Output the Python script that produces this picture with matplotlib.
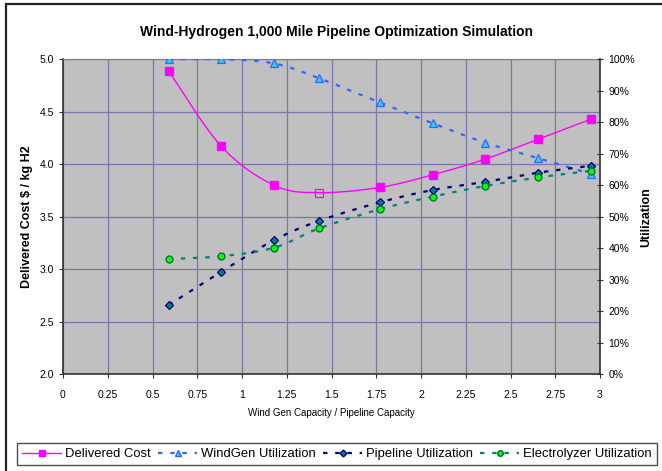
import numpy as np
import matplotlib
matplotlib.use('Agg')
import matplotlib.pyplot as plt
from matplotlib.lines import Line2D
from matplotlib.patches import Rectangle
from matplotlib.ticker import PercentFormatter

plt.rcParams['font.family'] = ['Liberation Sans', 'DejaVu Sans']

# data
ratio = [0.59, 0.885, 1.18, 1.43, 1.77, 2.065, 2.36, 2.655, 2.95]
cost = [4.89, 4.17, 3.80, 3.73, 3.78, 3.90, 4.05, 4.24, 4.43]
windgen_util = [100.0, 100.0, 98.7, 94.0, 86.3, 79.7, 73.5, 68.6, 63.6]
pipeline_util = [22.0, 32.6, 42.6, 48.7, 54.6, 58.5, 61.1, 64.0, 66.2]
electro_util = [36.6, 37.5, 40.2, 46.3, 52.4, 56.4, 59.8, 62.5, 64.6]
xticks = [0, 0.25, 0.5, 0.75, 1, 1.25, 1.5, 1.75, 2, 2.25, 2.5, 2.75, 3]
xtick_labels = ['0', '0.25', '0.5', '0.75', '1', '1.25', '1.5', '1.75', '2', '2.25', '2.5', '2.75', '3']
min_idx = 3  # hollow marker on cost curve


def smooth(x, y, n=25):
    # excel-like smoothed line (bezier through the points)
    x = np.asarray(x, float)
    y = np.asarray(y, float)
    xs, ys = [], []
    m = len(x)
    for i in range(m - 1):
        i0 = max(i - 1, 0)
        i3 = min(i + 2, m - 1)
        p0 = np.array([x[i0], y[i0]])
        p1 = np.array([x[i], y[i]])
        p2 = np.array([x[i + 1], y[i + 1]])
        p3 = np.array([x[i3], y[i3]])
        c1 = p1 + (p2 - p0) / 6.0
        c2 = p2 - (p3 - p1) / 6.0
        t = np.linspace(0, 1, n)[:, None]
        pts = ((1 - t) ** 3) * p1 + 3 * ((1 - t) ** 2) * t * c1 + 3 * (1 - t) * t ** 2 * c2 + t ** 3 * p2
        xs.extend(pts[:, 0])
        ys.extend(pts[:, 1])
    return np.array(xs), np.array(ys)


fig = plt.figure(figsize=(6.62, 4.71), dpi=100)
fig.patches.append(Rectangle((6 / 662, -0.1), 1.2, (471 - 3.5) / 471 + 0.1, transform=fig.transFigure,
                             fill=False, edgecolor='#222222', linewidth=1.6))

ax = fig.add_axes([63 / 662, 1 - 374.3 / 471, (600 - 63) / 662, (374.3 - 59.3) / 471])
ax.set_facecolor('#C0C0C0')
ax.set_xlim(0, 3)
ax.set_ylim(2.0, 5.0)
ax.set_xticks(xticks)
ax.set_xticklabels(xtick_labels)
ax.set_yticks(np.arange(2.0, 5.01, 0.5))
ax.yaxis.set_major_formatter(matplotlib.ticker.FormatStrFormatter('%.1f'))
ax.grid(True, color='#7878A8', linewidth=0.9)
ax.set_axisbelow(True)
ax.tick_params(axis='both', labelsize=7.5, length=3, width=0.8, color='#333333')
ax.tick_params(axis='x', pad=8)
for s in ['left', 'bottom']:
    ax.spines[s].set_color('#333333')
    ax.spines[s].set_linewidth(1.2)
ax.spines['top'].set_color('#7878A8')
ax.spines['right'].set_visible(False)
ax.set_xlabel('Wind Gen Capacity / Pipeline Capacity', fontsize=7, labelpad=6)
ax.set_ylabel('Delivered Cost $ / kg H2', fontsize=9, fontweight='bold', labelpad=5)

ax2 = ax.twinx()
ax2.set_ylim(0, 100)
ax2.set_yticks(np.arange(0, 101, 10))
ax2.yaxis.set_major_formatter(PercentFormatter(decimals=0))
ax2.tick_params(axis='y', labelsize=7.5, length=5, width=0.8, direction='inout', color='#333333')
ax2.spines['right'].set_color('#333333')
ax2.spines['right'].set_linewidth(1.2)
for s in ['left', 'top', 'bottom']:
    ax2.spines[s].set_visible(False)
ax2.set_ylabel('Utilization', fontsize=9, fontweight='bold', labelpad=4)

# cost curve
sx, sy = smooth(ratio, cost)
ax.plot(sx, sy, color='#FF00FF', linewidth=1.0, zorder=5)
filled = [i for i in range(len(ratio)) if i != min_idx]
ax.plot([ratio[i] for i in filled], [cost[i] for i in filled], 's', color='#FF00FF',
        markersize=5.5, zorder=6)
ax.plot([ratio[min_idx]], [cost[min_idx]], 's', markerfacecolor='none', markeredgecolor='#FF00FF',
        markersize=6, markeredgewidth=0.9, zorder=6)

series = [
    (windgen_util, '#3366FF', '^', '#33CCEE', '#3366FF', 6, 'WindGen Utilization'),
    (pipeline_util, '#000080', 'D', '#008080', '#000080', 4.5, 'Pipeline Utilization'),
    (electro_util, '#008080', 'o', '#00FF00', '#006633', 5, 'Electrolyzer Utilization'),
]
for vals, lc, mk, fc, ec, ms, lab in series:
    ux, uy = smooth(ratio, vals)
    ax2.plot(ux, uy, color=lc, linewidth=1.6, dashes=(2, 3.5), zorder=3)
    ax2.plot(ratio, vals, mk, markerfacecolor=fc, markeredgecolor=ec, markersize=ms,
             markeredgewidth=0.9, zorder=4)

handles = [Line2D([], [], color='#FF00FF', linewidth=1.0, marker='s', markersize=5,
                  label='Delivered Cost')]
for vals, lc, mk, fc, ec, ms, lab in series:
    handles.append(Line2D([], [], color=lc, linewidth=1.6, dashes=(2, 3.5), marker=mk,
                          markerfacecolor=fc, markeredgecolor=ec, markersize=ms - 1, label=lab))
leg = fig.legend(handles=handles, loc='center', bbox_to_anchor=(337 / 662, 1 - 454 / 471),
                 ncol=4, fontsize=9.4, frameon=True, fancybox=False, edgecolor='#222222',
                 handlelength=3.0, handletextpad=0.3, columnspacing=0.55, borderpad=0.4)
leg.get_frame().set_linewidth(1.0)

fig.text(337 / 662, 1 - 32 / 471, 'Wind-Hydrogen 1,000 Mile Pipeline Optimization Simulation',
         ha='center', va='center', fontsize=10, fontweight='bold')

fig.savefig('out.png', dpi=100)
